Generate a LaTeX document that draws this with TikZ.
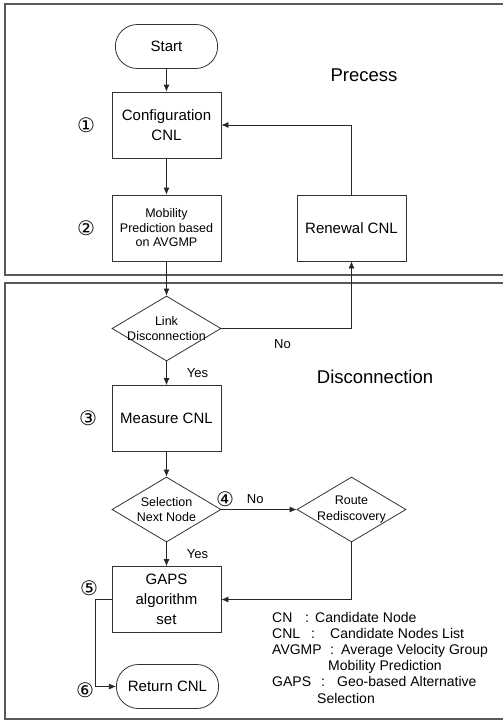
\documentclass[tikz,border=0pt]{standalone}
\usepackage{xcolor}
\usepackage{fontspec}
\setmainfont{Liberation Sans}
\newfontfamily\circfont{DejaVu Sans}
\usepackage{tikz}
\usetikzlibrary{shapes.geometric,shapes.misc,arrows.meta}

\begin{document}
\begin{tikzpicture} [x=1pt, y=-1pt,
		box/.style={draw=black!80, line width=0.8pt, minimum width=109pt, minimum height=66pt,
			inner sep=2pt, align=center, font=\fontsize{15}{20}\selectfont},
		terminal/.style={draw=black!80, line width=0.8pt, rounded rectangle, minimum width=109pt,
			minimum height=44pt, font=\fontsize{15}{20}\selectfont},
		decision/.style={draw=black!80, line width=0.8pt, diamond, minimum width=109pt,
			minimum height=65pt, inner sep=0pt},
		dtext/.style={align=center, inner sep=0pt, font=\fontsize{12.5}{15.5}\selectfont},
		flow/.style={draw=black!85, line width=0.8pt, -{Latex[length=7pt, width=6pt]}},
		ans/.style={inner sep=0pt, font=\fontsize{13}{15}\selectfont},
		frame/.style={draw=black!65, line width=1.5pt},
		title/.style={font=\fontsize{18.5}{22}\selectfont},
		stepnum/.style={inner sep=0pt, font=\circfont\fontsize{20}{20}\selectfont},
		legend/.style={anchor=base west, inner sep=0pt, font=\fontsize{14}{17}\selectfont}]
		\useasboundingbox (0,0) rectangle (503,721);
		%----------------------------------------------------
		% The two frames: Precess and Disconnection
		%----------------------------------------------------
		\draw [frame] (503,4) -- (5,4) -- (5,275) -- (503,275);
		\draw [frame] (503,283) -- (5,283) -- (5,719) -- (503,719);
		\node [title] (precess) at (364,75) {Precess};
		\node [title] (disconn) at (375,377) {Disconnection};

		%----------------------------------------------------
		% Steps of the flow chart
		%----------------------------------------------------
		\node [terminal] (start) at (166.5,46.5) {Start};
		\node [box] (config) at (166.5,125) {Configuration\\CNL};
		\node [box, font=\fontsize{12.5}{14.5}\selectfont] (mobility) at (166.5,228) {Mobility\\Prediction based\\on AVGMP};
		\node [box] (renewal) at (351.5,228) {Renewal CNL};
		\node [decision, label={[dtext]center:Link\\Disconnection}] (linkdis) at (166.5,328.5) {};
		\node [box] (measure) at (166.5,418.5) {Measure CNL};
		\node [decision, label={[dtext]center:Selection\\Next Node}] (select) at (166.5,509.5) {};
		\node [decision, label={[dtext]center:Route\\Rediscovery}] (route) at (351.5,509.5) {};
		\node [box] (gaps) at (166.5,599.5) {GAPS\\algorithm\\set};
		\node [terminal] (return) at (167.5,686.5) {Return CNL};

		\node [stepnum] (n1) at (86,125) {①};
		\node [stepnum] (n2) at (86,228) {②};
		\node [stepnum] (n3) at (88,418.5) {③};
		\node [stepnum] (n4) at (225,499) {④};
		\node [stepnum] (n5) at (89,588) {⑤};
		\node [stepnum] (n6) at (85,690) {⑥};

		%----------------------------------------------------
		% Connectors
		%----------------------------------------------------
		\draw [flow] (start) -- (config);
		\draw [flow] (config) -- (mobility);
		\draw [flow] (mobility) -- (linkdis);
		\draw [flow] (linkdis.east) -| (renewal.south) node [pos=0.235, below=11pt, ans] {No};
		\draw [flow] (renewal.north) |- (config.east);
		\draw [flow] (linkdis) -- (measure) node [midway, right=20pt, ans] {Yes};
		\draw [flow] (measure) -- (select);
		\draw [flow] (select) -- (route) node [pos=0.45, above=5pt, ans] {No};
		\draw [flow] (select) -- (gaps) node [midway, right=20pt, ans] {Yes};
		\draw [flow] (route.south) |- (gaps.east);
		\draw [flow] (gaps.west) -- ++(-16,0) |- (return.west);

		%----------------------------------------------------
		% Abbreviations
		%----------------------------------------------------
		\node [legend] (cn) at (272,622) {\makebox[33pt][l]{CN}\makebox[10pt][l]{:}Candidate Node};
		\node [legend] (cnl) at (272,638) {\makebox[39pt][l]{CNL}\makebox[19pt][l]{:}Candidate Nodes List};
		\node [legend] (avgmp) at (272,654) {\makebox[58pt][l]{AVGMP}\makebox[11pt][l]{:}Average Velocity Group};
		\node [legend] (avgmp2) at (328,670) {Mobility Prediction};
		\node [legend] (gapsdef) at (272,686) {\makebox[49pt][l]{GAPS}\makebox[16pt][l]{:}Geo-based Alternative};
		\node [legend] (gapsdef2) at (317,703) {Selection};

	\end{tikzpicture}
\end{document}
